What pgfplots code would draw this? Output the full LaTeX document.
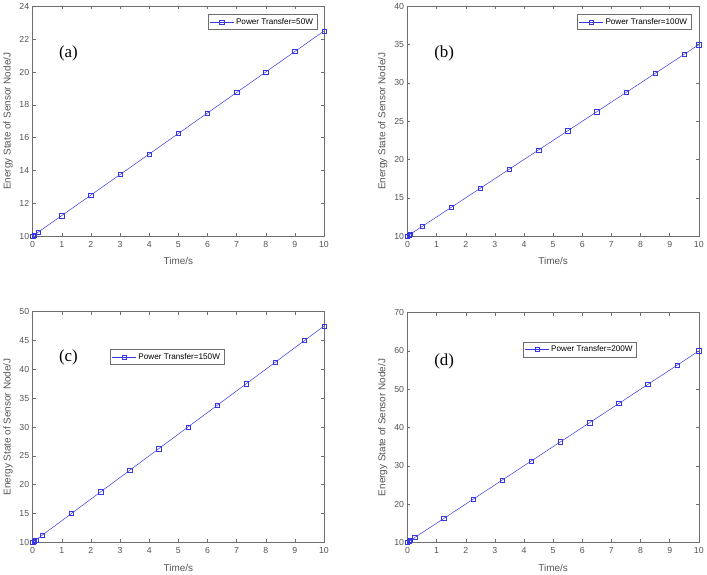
\documentclass[border=0pt]{standalone}
\usepackage{pgfplots}
\pgfplotsset{compat=1.18}
\usepackage{fontspec}
\setmainfont{Liberation Sans}
\newfontfamily\serifpanel{Liberation Serif}
\definecolor{axgray}{RGB}{110,110,110}
\definecolor{txtgray}{RGB}{85,85,85}
\definecolor{lineblue}{RGB}{55,55,225}
\tikzset{panellabel/.style={font=\serifpanel\fontsize{17}{17}\selectfont, text=black},
  myplot/.style={lineblue, line width=0.5pt, mark=square, mark size=2.2pt, mark options={solid, fill=none}}}
\pgfplotsset{
 panel/.style={
  scale only axis, width=293pt, anchor=south west,
  xmin=0, xmax=10, xtick={0,...,10},
  axis line style={axgray, line width=0.5pt},
  tick style={axgray, line width=0.4pt}, tick align=inside, major tick length=3pt,
  ticklabel style={font=\fontsize{8.8}{9}\selectfont, text=txtgray},
  xticklabel style={yshift=-2pt},
  label style={font=\fontsize{10}{10}\selectfont, text=txtgray},
  xlabel style={yshift=-3pt},
  xlabel={Time/s}, ylabel={Energy State of Sensor Node/J},
  /pgf/number format/assume math mode=true,
  legend style={font=\fontsize{8.2}{9}\selectfont, draw=axgray, line width=0.4pt, inner sep=1.8pt, legend cell align=left},
  legend image code/.code={\draw[mark repeat=2,mark phase=2,##1] plot coordinates {(0pt,0pt) (12pt,0pt) (24pt,0pt)};},
 },
}
\begin{document}
\begin{tikzpicture}
\path (0pt,0pt) rectangle (707pt,574pt);
% (a)
\begin{axis}[panel, at={(29pt,338pt)}, height=231pt, ymin=10, ymax=24, ytick={10,12,...,24},
  legend style={at={(0.976,0.965)}, anchor=north east}]
\addplot[myplot] coordinates {(0,10) (0.05,10.0625) (0.2,10.25) (1,11.25) (2,12.5) (3,13.75) (4,15) (5,16.25) (6,17.5) (7,18.75) (8,20) (9,21.25) (10,22.5)};
\addlegendentry{Power Transfer=50W}
\node[panellabel] at (axis cs:1.23,21.15) {(a)};
\end{axis}
% (b)
\begin{axis}[panel, at={(406pt,338pt)}, height=231pt, ymin=10, ymax=40, ytick={10,15,...,40},
  legend style={at={(0.973,0.965)}, anchor=north east}]
\addplot[myplot] coordinates {(0,10) (0.05,10.125) (0.1,10.25) (0.5,11.25) (1.5,13.75) (2.5,16.25) (3.5,18.75) (4.5,21.25) (5.5,23.75) (6.5,26.25) (7.5,28.75) (8.5,31.25) (9.5,33.75) (10,35)};
\addlegendentry{Power Transfer=100W}
\node[panellabel] at (axis cs:1.26,33.9) {(b)};
\end{axis}
% (c)
\begin{axis}[panel, at={(29pt,30pt)}, height=232pt, ymin=10, ymax=50, ytick={10,15,...,50},
  legend style={at={(0.266,0.836)}, anchor=north west}]
\addplot[myplot] coordinates {(0,10) (0.05,10.1875) (0.1,10.375) (0.333,11.25) (1.333,15) (2.333,18.75) (3.333,22.5) (4.333,26.25) (5.333,30) (6.333,33.75) (7.333,37.5) (8.333,41.25) (9.333,45) (10,47.5)};
\addlegendentry{Power Transfer=150W}
\node[panellabel] at (axis cs:1.23,42.07) {(c)};
\end{axis}
% (d)
\begin{axis}[panel, at={(406pt,30pt)}, height=231pt, ymin=10, ymax=70, ytick={10,20,...,70},
  legend style={at={(0.396,0.874)}, anchor=north west}]
\addplot[myplot] coordinates {(0,10) (0.05,10.25) (0.1,10.5) (0.25,11.25) (1.25,16.25) (2.25,21.25) (3.25,26.25) (4.25,31.25) (5.25,36.25) (6.25,41.25) (7.25,46.25) (8.25,51.25) (9.25,56.25) (10,60)};
\addlegendentry{Power Transfer=200W}
\node[panellabel] at (axis cs:1.26,57.3) {(d)};
\end{axis}
\end{tikzpicture}
\end{document}
